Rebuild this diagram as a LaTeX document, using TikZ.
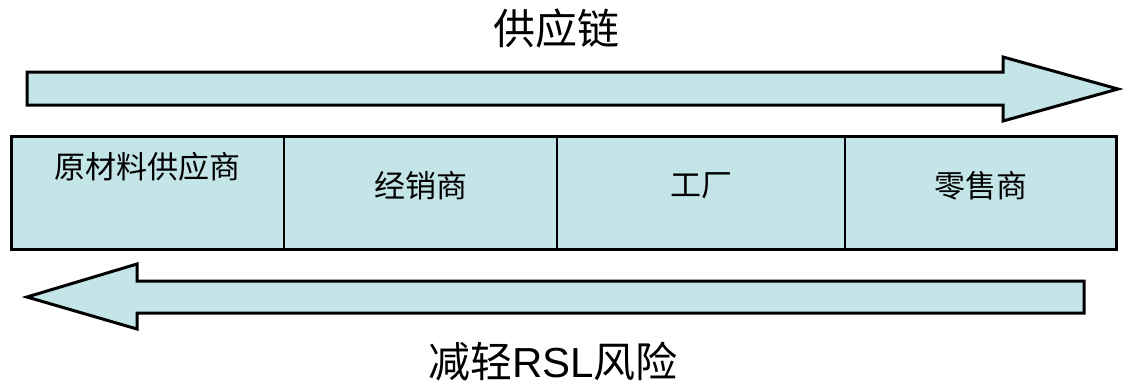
\documentclass[tikz,border=0pt]{standalone}
\usepackage{fontspec}
\setmainfont{Noto Sans CJK SC}
\newfontfamily\latinfont{Liberation Sans}
\definecolor{cellfill}{RGB}{196,229,232}
\begin{document}
\begin{tikzpicture}[x=1pt,y=-1pt,
  shapeline/.style={draw=black,line width=3pt,fill=cellfill,line join=miter},
  cellbox/.style={draw=black,line width=2pt,fill=cellfill,rectangle,inner sep=0pt,anchor=north west},
  celltext/.style={font=\fontsize{31}{36}\selectfont,inner sep=0pt},
  bigtext/.style={font=\fontsize{42}{48}\selectfont,inner sep=0pt}]
\useasboundingbox (0,0) rectangle (1124,386);
% top arrow
\draw[shapeline] (27,72) -- (1003,72) -- (1003,57) -- (1118,89) -- (1003,121) -- (1003,105) -- (27,105) -- cycle;
% bottom arrow
\draw[shapeline] (27,297) -- (137,264) -- (137,281) -- (1084,281) -- (1084,313) -- (137,313) -- (137,329) -- cycle;
% cells
\node[cellbox,minimum width=272pt,minimum height=113pt] (c1) at (11,136) {};
\node[cellbox,minimum width=273pt,minimum height=113pt] (c2) at (283,136) {};
\node[cellbox,minimum width=288pt,minimum height=113pt] (c3) at (556,136) {};
\node[cellbox,minimum width=272pt,minimum height=113pt] (c4) at (844,136) {};
\draw[line width=3pt] (11,136) rectangle (1116,249);
\node[celltext] (t1) at (147,167) {原材料供应商};
\node[celltext] (t2) at ([yshift=8pt]c2.center) {经销商};
\node[celltext] (t3) at ([yshift=8pt]c3.center) {工厂};
\node[celltext] (t4) at ([yshift=8pt]c4.center) {零售商};
\node[bigtext] (top) at (556,29) {供应链};
\node[bigtext] (bot) at (553,361) {减轻{\latinfont RSL}风险};
\end{tikzpicture}
\end{document}
